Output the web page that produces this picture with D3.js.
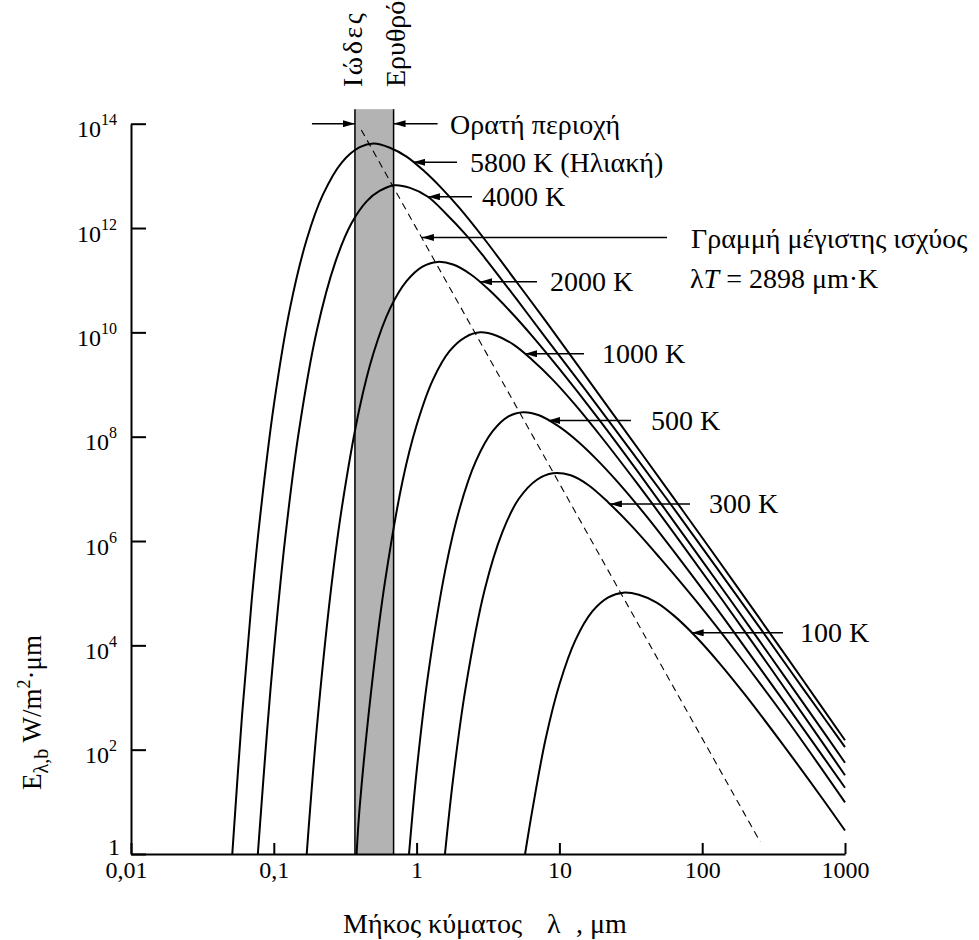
<!DOCTYPE html>
<html>
<head>
<meta charset="utf-8">
<script src="https://cdn.jsdelivr.net/npm/d3@7"></script>
<style>
  body { margin: 0; background: #fff; }
  text { font-family: "Liberation Serif", "Times New Roman", serif; fill: #000; }
</style>
</head>
<body>
<svg id="chart" width="979" height="940"></svg>
<script>
// ---- axis ticks ----
const xTicks = [0.01, 0.1, 1, 10, 100, 1000];
const xTickLabels = ["0,01", "0,1", "1", "10", "100", "1000"];
const yTicks = [1, 1e2, 1e4, 1e6, 1e8, 1e10, 1e12, 1e14];
const yTickExponents = [0, 2, 4, 6, 8, 10, 12, 14];

// ---- blackbody curves: wavelength (μm) and log10 of E (W/m²·μm) ----
const lambda5800 = [0.0512, 0.06, 0.07, 0.08, 0.1, 0.13, 0.17, 0.22, 0.3, 0.4, 0.5, 0.65, 0.85, 1.1, 1.5, 2, 3, 5, 8, 15, 30, 60, 120, 250, 500, 1000];
const logE5800   = [0, 2.68, 4.86, 6.44, 8.60, 10.47, 11.78, 12.63, 13.26, 13.55, 13.62, 13.54, 13.37, 13.12, 12.76, 12.38, 11.78, 10.97, 10.22, 9.19, 8.05, 6.91, 5.76, 4.53, 3.36, 2.18];

const lambda4000 = [0.0773, 0.09, 0.1, 0.12, 0.15, 0.2, 0.27, 0.35, 0.45, 0.55, 0.7, 0.9, 1.2, 1.6, 2.2, 3, 5, 8, 15, 30, 60, 120, 250, 500, 1000];
const logE4000   = [0, 2.40, 3.87, 6.04, 8.11, 10.03, 11.35, 12.09, 12.52, 12.71, 12.82, 12.77, 12.60, 12.28, 11.88, 11.43, 10.64, 9.90, 8.92, 7.82, 6.71, 5.57, 4.36, 3.20, 2.05];

const lambda2000 = [0.17, 0.2, 0.25, 0.3, 0.4, 0.5, 0.65, 0.85, 1.1, 1.4, 1.8, 2.4, 3.2, 4.5, 6.5, 10, 18, 35, 70, 150, 300, 600, 1000];
const logE2000   = [0, 2.41, 5.01, 6.65, 8.57, 9.61, 10.45, 10.98, 11.26, 11.35, 11.30, 11.11, 10.82, 10.41, 9.92, 9.30, 8.41, 7.35, 6.21, 4.95, 3.79, 2.62, 1.75];

const lambda1000 = [0.38, 0.4, 0.5, 0.6, 0.8, 1, 1.3, 1.7, 2.2, 2.8, 3.6, 4.8, 6.4, 9, 13, 20, 36, 70, 140, 300, 600, 1000];
const logE1000   = [0, 0.92, 3.54, 5.21, 7.17, 8.22, 9.09, 9.64, 9.91, 10.00, 9.94, 9.76, 9.48, 9.09, 8.60, 7.97, 7.06, 5.99, 4.85, 3.57, 2.39, 1.51];

const lambda500 = [0.885, 1, 1.2, 1.6, 2, 2.6, 3.4, 4.4, 5.6, 7.2, 9.6, 12.8, 18, 26, 40, 72, 140, 280, 600, 1000];
const logE500   = [0, 1.58, 3.41, 5.49, 6.62, 7.53, 8.10, 8.39, 8.47, 8.41, 8.22, 7.96, 7.58, 7.11, 6.50, 5.60, 4.54, 3.40, 2.13, 1.27];

const lambda300 = [1.58, 1.8, 2.2, 3, 4, 5.2, 7, 9, 12, 16, 22, 32, 50, 90, 180, 400, 1000];
const logE300   = [0, 1.43, 3.17, 5.07, 6.18, 6.81, 7.18, 7.30, 7.26, 7.07, 6.74, 6.29, 5.69, 4.86, 3.81, 2.54, 0.99];

const lambda100 = [5.75, 6.5, 8, 10, 13, 17, 22, 28, 36, 48, 64, 90, 130, 200, 360, 700, 1000];
const logE100   = [0, 0.88, 2.20, 3.25, 4.11, 4.65, 4.92, 5.01, 4.97, 4.82, 4.56, 4.17, 3.68, 3.05, 2.13, 1.05, 0.45];

const curveLabels = ["5800 K (Ηλιακή)", "4000 K", "2000 K", "1000 K", "500 K", "300 K", "100 K"];

// visible band (μm) and Wien maximum-power line
const visibleBand = [0.37, 0.69];
const visibleBandTopE = 1.9e14;
const wienLambda = [0.41, 255];
const wienE = [7.6e13, 1.7];

// ---- scales ----
const svg = d3.select("#chart");
const x = d3.scaleLog().domain([0.01, 1000]).range([131, 845]);
const y = d3.scaleLog().domain([1, 1e14]).range([854, 123.7]);

const defs = svg.append("defs");
defs.append("marker")
  .attr("id", "arrowhead")
  .attr("viewBox", "0 0 12 7")
  .attr("refX", 12).attr("refY", 3.5)
  .attr("markerWidth", 12).attr("markerHeight", 7)
  .attr("markerUnits", "userSpaceOnUse")
  .attr("orient", "auto")
  .append("path").attr("d", "M0,0L12,3.5L0,7Z").attr("fill", "#000");

// ---- visible band ----
svg.append("rect")
  .attr("x", x(visibleBand[0]))
  .attr("y", y(visibleBandTopE))
  .attr("width", x(visibleBand[1]) - x(visibleBand[0]))
  .attr("height", y(1) - y(visibleBandTopE))
  .attr("fill", "#b3b3b3");
visibleBand.forEach(v => {
  svg.append("line")
    .attr("x1", x(v)).attr("x2", x(v))
    .attr("y1", y(visibleBandTopE)).attr("y2", y(1))
    .attr("stroke", "#000").attr("stroke-width", 1.5);
});

// ---- Wien line ----
svg.append("line")
  .attr("x1", x(wienLambda[0])).attr("y1", y(wienE[0]))
  .attr("x2", x(wienLambda[1])).attr("y2", y(wienE[1]))
  .attr("stroke", "#000").attr("stroke-width", 1.1)
  .attr("stroke-dasharray", "7,5");

// ---- curves ----
const series = [
  [lambda5800, logE5800], [lambda4000, logE4000], [lambda2000, logE2000],
  [lambda1000, logE1000], [lambda500, logE500], [lambda300, logE300], [lambda100, logE100]
];
const line = d3.line()
  .x(d => x(d[0]))
  .y(d => y(Math.pow(10, d[1])))
  .curve(d3.curveCatmullRom.alpha(0.5));
svg.append("g").selectAll("path")
  .data(series.map(([ls, es]) => ls.map((l, i) => [l, es[i]])))
  .join("path")
  .attr("d", line)
  .attr("fill", "none")
  .attr("stroke", "#000")
  .attr("stroke-width", 2);

// ---- axes ----
const gx = svg.append("g")
  .attr("transform", `translate(0,${y(1)})`)
  .call(d3.axisBottom(x).tickValues(xTicks).tickSize(-11).tickSizeOuter(0).tickPadding(7)
    .tickFormat((d, i) => xTickLabels[i]));
gx.select(".domain").attr("stroke-width", 2);
gx.selectAll(".tick line").attr("stroke-width", 2);
gx.selectAll(".tick text")
  .attr("font-size", 24)
  .attr("font-family", "Liberation Serif, Times New Roman, serif")
  .attr("dx", (d, i) => i === 0 ? -5 : 0);

const gy = svg.append("g")
  .attr("transform", `translate(${x(0.01)},0)`)
  .call(d3.axisLeft(y).tickValues(yTicks).tickSize(-15).tickSizeOuter(0).tickFormat(""));
gy.select(".domain").attr("stroke-width", 2);
gy.selectAll(".tick line").attr("stroke-width", 2);
gy.selectAll(".tick").each(function (d, i) {
  const g = d3.select(this);
  g.select("text").remove();
  const e = yTickExponents[i];
  const t = g.append("text")
    .attr("text-anchor", "end")
    .attr("font-size", 24);
  if (e === 0) {
    t.attr("x", -11).attr("y", 0).text("1");
  } else {
    t.attr("x", -14).attr("y", 13);
    t.append("tspan").text("10");
    t.append("tspan").attr("font-size", 16).attr("dy", -12).text(e);
  }
});

// ---- axis titles ----
const xt = svg.append("g").attr("font-size", 28);
xt.append("text").attr("x", 343).attr("y", 933).text("Μήκος κύματος");
xt.append("text").attr("x", 547).attr("y", 933).text("λ");
xt.append("text").attr("x", 576).attr("y", 933).text(",");
xt.append("text").attr("x", 590).attr("y", 933).text("μm");

const yt = svg.append("text")
  .attr("transform", "translate(41,790) rotate(-90)")
  .attr("font-size", 27);
yt.append("tspan").text("E");
yt.append("tspan").attr("font-size", 20).attr("dy", 7).text("λ,b");
yt.append("tspan").attr("dy", -7).text(" W/m");
yt.append("tspan").attr("font-size", 18).attr("dy", -11).text("2");
yt.append("tspan").attr("dy", 11).text("·μm");

// ---- band labels ----
svg.append("text")
  .attr("transform", `translate(${x(visibleBand[0]) + 7},87) rotate(-90)`)
  .attr("font-size", 28).attr("letter-spacing", 2.5).text("Ιώδες");
svg.append("text")
  .attr("transform", `translate(${x(visibleBand[1]) + 11},87) rotate(-90)`)
  .attr("font-size", 28).text("Ερυθρό");

// visible-range arrows
const arrowY = y(1e14);
svg.append("line")
  .attr("x1", x(visibleBand[0]) - 43).attr("x2", x(visibleBand[0]))
  .attr("y1", arrowY).attr("y2", arrowY)
  .attr("stroke", "#000").attr("stroke-width", 1.5).attr("marker-end", "url(#arrowhead)");
svg.append("line")
  .attr("x1", x(visibleBand[1]) + 44).attr("x2", x(visibleBand[1]))
  .attr("y1", arrowY).attr("y2", arrowY)
  .attr("stroke", "#000").attr("stroke-width", 1.5).attr("marker-end", "url(#arrowhead)");
svg.append("text").attr("x", 450).attr("y", arrowY + 10).attr("font-size", 28).text("Ορατή περιοχή");

// ---- curve labels with arrows (tip on the curve, tail and text in px) ----
const labelLayout = [
  { tip: [0.944, 13.26], tail: 457, textX: 470 },
  { tip: [1.20, 12.60], tail: 472, textX: 482 },
  { tip: [2.78, 10.97], tail: 537, textX: 550 },
  { tip: [5.74, 9.59], tail: 584, textX: 602 },
  { tip: [8.36, 8.31], tail: 631, textX: 651 },
  { tip: [22.6, 6.71], tail: 690, textX: 709 },
  { tip: [84.4, 4.24], tail: 783, textX: 800 }
];
labelLayout.forEach((L, i) => {
  const tx = x(L.tip[0]), ty = y(Math.pow(10, L.tip[1]));
  svg.append("line")
    .attr("x1", L.tail).attr("x2", tx).attr("y1", ty).attr("y2", ty)
    .attr("stroke", "#000").attr("stroke-width", 1.5).attr("marker-end", "url(#arrowhead)");
  svg.append("text").attr("x", L.textX).attr("y", ty + 9.5)
    .attr("font-size", 28).text(curveLabels[i]);
});

// Wien line label
const wTip = [1.09, 11.82];
const wy = y(Math.pow(10, wTip[1]));
svg.append("line")
  .attr("x1", 667).attr("x2", x(wTip[0])).attr("y1", wy).attr("y2", wy)
  .attr("stroke", "#000").attr("stroke-width", 1.5).attr("marker-end", "url(#arrowhead)");
svg.append("text").attr("x", 691).attr("y", wy + 11).attr("font-size", 28).text("Γραμμή μέγιστης ισχύος");
const wt = svg.append("text").attr("x", 690).attr("y", wy + 51).attr("font-size", 28);
wt.append("tspan").text("λ");
wt.append("tspan").attr("font-style", "italic").text("T");
wt.append("tspan").text(" = 2898 μm·K");
</script>
</body>
</html>
